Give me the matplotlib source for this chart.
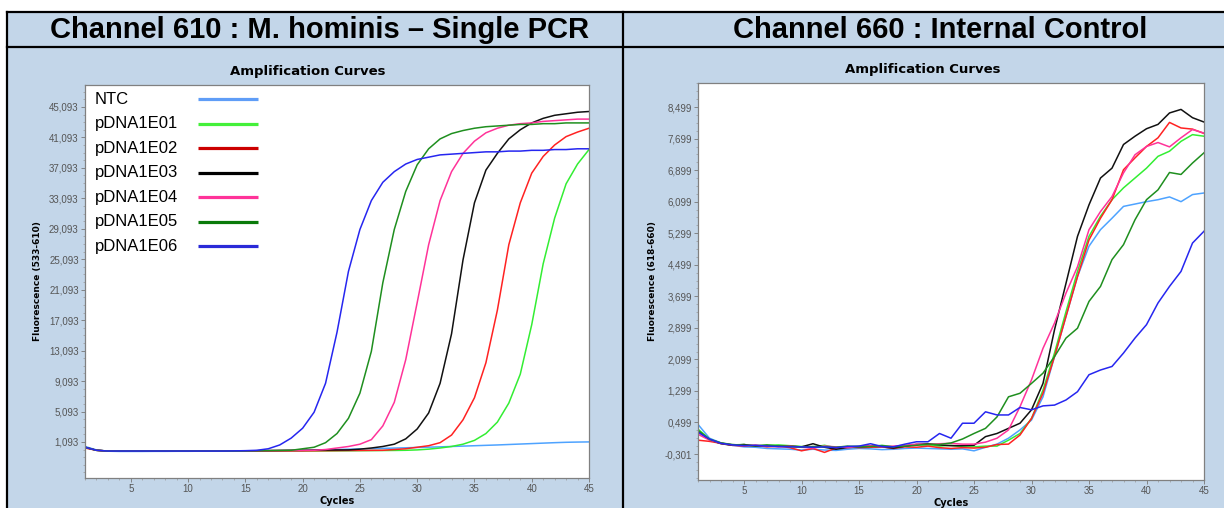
import numpy as np
import matplotlib.pyplot as plt
from matplotlib.lines import Line2D
from matplotlib.patches import Rectangle
from matplotlib.ticker import AutoMinorLocator

plt.rcParams['font.family'] = ['Liberation Sans', 'DejaVu Sans']

cycles = np.arange(1, 46)
names = ['NTC', 'pDNA1E01', 'pDNA1E02', 'pDNA1E03', 'pDNA1E04', 'pDNA1E05', 'pDNA1E06']
legend_colors = ['#5f9df7', '#44f03a', '#cc0000', '#000000', '#ff3399', '#0a7a0a', '#2a2ad8']
curve_colors = ['#4ea3ff', '#33ee33', '#ff2222', '#111111', '#ff3399', '#1f8f1f', '#2626f0']

# Channel 610 (values as shown on axis, comma = decimal)
ch610_ntc = [0.50, 0.05, -0.12, -0.15, -0.15, -0.15, -0.14, -0.14, -0.13, -0.13,
             -0.12, -0.12, -0.11, -0.10, -0.09, -0.08, -0.06, -0.05, -0.03, 0.00,
             0.03, 0.06, 0.10, 0.14, 0.18, 0.21, 0.25, 0.29, 0.33, 0.37,
             0.41, 0.45, 0.50, 0.55, 0.60, 0.65, 0.70, 0.76, 0.82, 0.88,
             0.94, 1.00, 1.05, 1.08, 1.10]
ch610_e01 = [0.35, 0.00, -0.10, -0.10, -0.10, -0.10, -0.10, -0.10, -0.10, -0.10,
             -0.10, -0.10, -0.10, -0.10, -0.10, -0.10, -0.10, -0.10, -0.10, -0.10,
             -0.09, -0.08, -0.07, -0.06, -0.05, -0.04, -0.03, -0.02, 0.00, 0.05,
             0.15, 0.30, 0.50, 0.80, 1.30, 2.20, 3.70, 6.20, 10.0, 16.5,
             24.5, 30.5, 35.0, 37.6, 39.5]
ch610_e02 = [0.30, 0.00, -0.10, -0.10, -0.10, -0.10, -0.10, -0.10, -0.10, -0.10,
             -0.10, -0.10, -0.10, -0.10, -0.10, -0.10, -0.10, -0.09, -0.08, -0.07,
             -0.06, -0.05, -0.04, -0.03, -0.02, -0.01, 0.00, 0.10, 0.20, 0.40,
             0.60, 1.00, 2.00, 4.00, 6.90, 11.5, 18.4, 27.0, 32.5, 36.4,
             38.6, 40.1, 41.2, 41.8, 42.3]
ch610_e03 = [0.40, 0.00, -0.10, -0.10, -0.10, -0.10, -0.10, -0.10, -0.10, -0.10,
             -0.10, -0.10, -0.10, -0.10, -0.08, -0.06, -0.04, -0.02, 0.00, 0.00,
             0.02, 0.03, 0.04, 0.05, 0.15, 0.30, 0.50, 0.80, 1.50, 2.80,
             4.90, 8.80, 15.3, 25.0, 32.5, 36.8, 39.0, 40.9, 42.1, 43.0,
             43.6, 44.0, 44.2, 44.4, 44.5]
ch610_e04 = [0.40, 0.00, -0.10, -0.10, -0.10, -0.10, -0.10, -0.10, -0.10, -0.10,
             -0.10, -0.10, -0.10, -0.10, -0.08, -0.06, -0.05, -0.04, -0.03, -0.02,
             0.00, 0.10, 0.30, 0.50, 0.80, 1.40, 3.20, 6.30, 11.9, 19.4,
             27.0, 32.8, 36.6, 39.0, 40.6, 41.7, 42.3, 42.7, 42.9, 43.0,
             43.2, 43.3, 43.4, 43.5, 43.5]
ch610_e05 = [0.40, 0.00, -0.10, -0.10, -0.10, -0.10, -0.10, -0.10, -0.10, -0.10,
             -0.10, -0.10, -0.10, -0.10, -0.08, -0.06, -0.04, -0.02, 0.00, 0.20,
             0.40, 1.00, 2.20, 4.20, 7.50, 13.0, 22.0, 29.0, 34.0, 37.5,
             39.6, 40.9, 41.6, 42.0, 42.3, 42.5, 42.6, 42.7, 42.8, 42.8,
             42.9, 42.9, 43.0, 43.0, 43.0]
ch610_e06 = [0.40, 0.00, -0.10, -0.10, -0.10, -0.10, -0.10, -0.10, -0.10, -0.10,
             -0.10, -0.10, -0.10, -0.08, -0.05, 0.00, 0.20, 0.70, 1.60, 2.90,
             5.00, 8.80, 15.5, 23.5, 29.0, 32.8, 35.2, 36.6, 37.6, 38.2,
             38.5, 38.8, 38.9, 39.0, 39.1, 39.2, 39.2, 39.3, 39.3, 39.4,
             39.4, 39.5, 39.5, 39.6, 39.6]

# Channel 660
ch660_ntc = [0.45, 0.10, -0.02, -0.08, -0.12, -0.13, -0.16, -0.17, -0.18, -0.20,
             -0.18, -0.20, -0.21, -0.18, -0.16, -0.17, -0.19, -0.18, -0.16, -0.15,
             -0.16, -0.17, -0.18, -0.17, -0.22, -0.13, -0.05, 0.10, 0.31, 0.56,
             1.15, 2.17, 3.19, 4.20, 4.97, 5.39, 5.68, 5.98, 6.04, 6.10,
             6.15, 6.22, 6.10, 6.28, 6.32]
ch660_e01 = [0.33, 0.08, -0.02, -0.07, -0.06, -0.10, -0.08, -0.07, -0.09, -0.11,
             -0.12, -0.08, -0.14, -0.12, -0.10, -0.11, -0.08, -0.12, -0.10, -0.06,
             -0.08, -0.10, -0.08, -0.12, -0.12, -0.10, -0.10, 0.05, 0.22, 0.60,
             1.32, 2.26, 3.31, 4.33, 5.22, 5.73, 6.15, 6.45, 6.70, 6.95,
             7.25, 7.38, 7.63, 7.80, 7.76]
ch660_e02 = [0.05, 0.02, -0.03, -0.08, -0.10, -0.08, -0.12, -0.10, -0.14, -0.22,
             -0.16, -0.26, -0.15, -0.12, -0.14, -0.13, -0.12, -0.16, -0.12, -0.13,
             -0.10, -0.14, -0.16, -0.14, -0.15, -0.13, -0.06, -0.05, 0.18, 0.60,
             1.24, 2.17, 3.19, 4.20, 5.13, 5.68, 6.15, 6.91, 7.21, 7.50,
             7.72, 8.11, 7.97, 7.94, 7.83]
ch660_e03 = [0.28, 0.06, -0.04, -0.08, -0.06, -0.10, -0.09, -0.11, -0.10, -0.12,
             -0.04, -0.13, -0.18, -0.14, -0.12, -0.10, -0.12, -0.15, -0.10, -0.06,
             -0.04, -0.07, -0.09, -0.09, -0.08, 0.14, 0.22, 0.35, 0.48, 0.82,
             1.49, 2.85, 4.03, 5.22, 6.02, 6.70, 6.95, 7.55, 7.76, 7.95,
             8.06, 8.35, 8.44, 8.23, 8.12]
ch660_e04 = [0.20, 0.05, -0.03, -0.07, -0.09, -0.08, -0.10, -0.12, -0.10, -0.13,
             -0.15, -0.10, -0.12, -0.14, -0.11, -0.09, -0.12, -0.10, -0.08, -0.05,
             -0.06, -0.04, -0.03, -0.05, -0.05, 0.00, 0.10, 0.31, 0.90, 1.58,
             2.38, 3.02, 3.78, 4.45, 5.39, 5.85, 6.23, 6.83, 7.29, 7.50,
             7.60, 7.49, 7.72, 7.93, 7.84]
ch660_e05 = [0.30, 0.07, -0.02, -0.06, -0.08, -0.09, -0.07, -0.10, -0.11, -0.13,
             -0.11, -0.12, -0.13, -0.10, -0.12, -0.11, -0.09, -0.12, -0.10, -0.08,
             -0.05, -0.06, -0.02, 0.08, 0.22, 0.35, 0.64, 1.15, 1.24, 1.49,
             1.75, 2.17, 2.64, 2.89, 3.57, 3.95, 4.63, 5.01, 5.64, 6.15,
             6.40, 6.84, 6.79, 7.08, 7.34]
ch660_e06 = [0.25, 0.08, -0.03, -0.07, -0.09, -0.08, -0.10, -0.11, -0.12, -0.12,
             -0.13, -0.12, -0.14, -0.11, -0.10, -0.04, -0.11, -0.12, -0.05, 0.01,
             0.01, 0.22, 0.10, 0.48, 0.48, 0.77, 0.69, 0.69, 0.88, 0.82,
             0.92, 0.94, 1.07, 1.28, 1.71, 1.83, 1.92, 2.26, 2.64, 2.98,
             3.53, 3.95, 4.33, 5.05, 5.35]

ch610 = [ch610_ntc, ch610_e01, ch610_e02, ch610_e03, ch610_e04, ch610_e05, ch610_e06]
ch660 = [ch660_ntc, ch660_e01, ch660_e02, ch660_e03, ch660_e04, ch660_e05, ch660_e06]

ticks610 = [1.093 + 4 * i for i in range(12)]
ticks660 = [-0.301 + 0.8 * i for i in range(12)]
xticks = [5, 10, 15, 20, 25, 30, 35, 40, 45]

W, H = 1224, 508
fig = plt.figure(figsize=(W / 100, H / 100), dpi=100, facecolor='white')
cell_blue = '#c3d6e9'
fig.patches.append(Rectangle((7 / W, 0), 1 - 7 / W, (H - 12) / H,
                             transform=fig.transFigure, color=cell_blue, zorder=-5))
border = dict(color='black', lw=1.6, transform=fig.transFigure, zorder=5)
fig.add_artist(Line2D([7 / W, 1], [1 - 12 / H, 1 - 12 / H], **border))
fig.add_artist(Line2D([7 / W, 1], [1 - 47 / H, 1 - 47 / H], **border))
fig.add_artist(Line2D([7 / W, 7 / W], [0, 1 - 12 / H], **border))
fig.add_artist(Line2D([622.5 / W, 622.5 / W], [0, 1 - 12 / H], **border))

fig.text(320 / W, 1 - 30 / H, 'Channel 610 : M. hominis \u2013 Single PCR',
         ha='center', va='center', fontsize=21, fontweight='bold')
fig.text(940 / W, 1 - 30 / H, 'Channel 660 : Internal Control',
         ha='center', va='center', fontsize=21, fontweight='bold')
fig.text(308 / W, 1 - 72 / H, 'Amplification Curves', ha='center', va='center',
         fontsize=9.5, fontweight='bold', family='DejaVu Sans')
fig.text(923 / W, 1 - 69 / H, 'Amplification Curves', ha='center', va='center',
         fontsize=9.5, fontweight='bold', family='DejaVu Sans')


def setup(ax, ticks, ylim, ylabel, lab_x):
    ax.set_xlim(1, 45)
    ax.set_ylim(*ylim)
    ax.set_xticks(xticks)
    ax.set_yticks(ticks)
    ax.set_yticklabels([f'{t:.3f}'.replace('.', ',') for t in ticks])
    ax.xaxis.set_minor_locator(AutoMinorLocator(5))
    ax.yaxis.set_minor_locator(AutoMinorLocator(4))
    ax.tick_params(which='major', length=3, width=0.6, color='#777777', labelsize=7,
                   labelcolor='#555555', pad=1.5)
    ax.tick_params(which='minor', length=1.5, width=0.5, color='#999999')
    for s in ax.spines.values():
        s.set_color('#808080')
        s.set_linewidth(0.9)
    ax.set_ylabel(ylabel, fontsize=6.5, fontweight='bold', family='DejaVu Sans')
    ax.yaxis.set_label_coords(lab_x, 0.5)
    ax.set_xlabel('Cycles', fontsize=7, fontweight='bold', family='DejaVu Sans')
    ax.xaxis.set_label_coords(0.5, -0.045)


ax1 = fig.add_axes([85 / W, (H - 478) / H, 504 / W, 393 / H])
ax2 = fig.add_axes([698 / W, (H - 480) / H, 506 / W, 397 / H])
setup(ax1, ticks610, (-3.64, 47.98), 'Fluorescence (533-610)', -0.085)
setup(ax2, ticks660, (-0.96, 9.11), 'Fluorescence (618-660)', -0.082)

for vals, col in zip(ch610, curve_colors):
    ax1.plot(cycles, vals, color=col, lw=1.1)
for vals, col in zip(ch660, curve_colors):
    ax2.plot(cycles, vals, color=col, lw=1.1)

# legend drawn as a table: label left, line right
for i, (name, col) in enumerate(zip(names, legend_colors)):
    yy = 0.964 - i * 0.0623
    ax1.text(0.02, yy, name, transform=ax1.transAxes, fontsize=12, va='center', ha='left')
    ax1.add_line(Line2D([0.224, 0.343], [yy, yy], transform=ax1.transAxes,
                        color=col, lw=2.3, solid_capstyle='butt'))

fig.savefig('out.png', dpi=100, facecolor='white')
